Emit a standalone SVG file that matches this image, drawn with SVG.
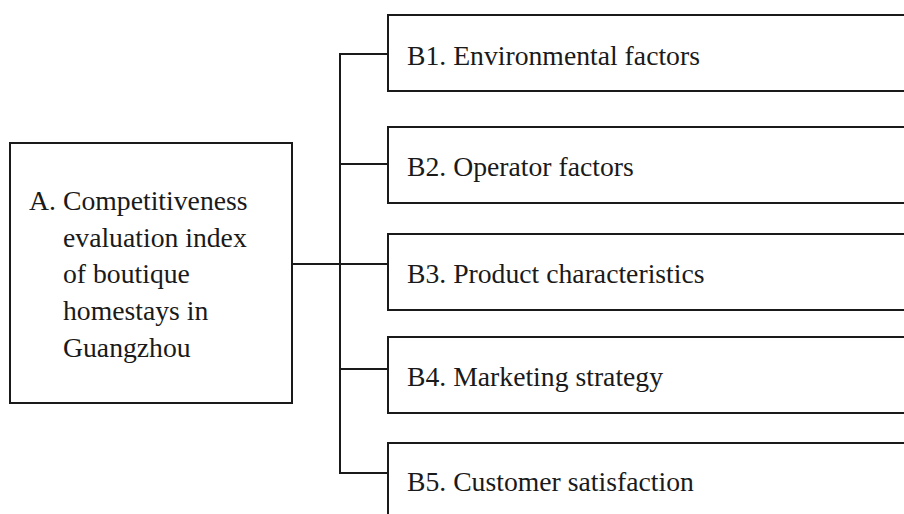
<svg xmlns="http://www.w3.org/2000/svg" width="904" height="514" viewBox="0 0 904 514">
<style>
.box{fill:#fff;stroke:#1a1a1a;stroke-width:2}
.ln{fill:none;stroke:#1a1a1a;stroke-width:2}
</style>
<rect width="904" height="514" fill="#fff"/>
<g id="connectors">
<line class="ln" x1="292" y1="264" x2="388" y2="264"/>
<line class="ln" x1="340" y1="53" x2="340" y2="474"/>
<line class="ln" x1="339" y1="54" x2="388" y2="54"/>
<line class="ln" x1="340" y1="164" x2="388" y2="164"/>
<line class="ln" x1="340" y1="369" x2="388" y2="369"/>
<line class="ln" x1="339" y1="473" x2="388" y2="473"/>
</g>
<g id="A">
<rect class="box" x="10" y="143" width="282" height="260"/>
<text font-family="Liberation Serif" font-size="27.7" fill="#1a1a1a" x="29" y="210">A.</text>
<text font-family="Liberation Serif" font-size="27.7" fill="#1a1a1a" x="63" y="210">Competitiveness</text>
<text font-family="Liberation Serif" font-size="27.7" fill="#1a1a1a" x="63" y="247">evaluation index</text>
<text font-family="Liberation Serif" font-size="27.7" fill="#1a1a1a" x="63" y="283">of boutique</text>
<text font-family="Liberation Serif" font-size="27.7" fill="#1a1a1a" x="63" y="320">homestays in</text>
<text font-family="Liberation Serif" font-size="27.7" fill="#1a1a1a" x="63" y="357">Guangzhou</text>
</g>
<g id="B1">
<rect class="box" x="388" y="15" width="540" height="76"/>
<text font-family="Liberation Serif" font-size="27.7" fill="#1a1a1a" x="407" y="65">B1. Environmental factors</text>
</g>
<g id="B2">
<rect class="box" x="388" y="127" width="540" height="76"/>
<text font-family="Liberation Serif" font-size="27.7" fill="#1a1a1a" x="407" y="176">B2. Operator factors</text>
</g>
<g id="B3">
<rect class="box" x="388" y="234" width="540" height="76"/>
<text font-family="Liberation Serif" font-size="27.7" fill="#1a1a1a" x="407" y="283">B3. Product characteristics</text>
</g>
<g id="B4">
<rect class="box" x="388" y="337" width="540" height="76"/>
<text font-family="Liberation Serif" font-size="27.7" fill="#1a1a1a" x="407" y="386">B4. Marketing strategy</text>
</g>
<g id="B5">
<rect class="box" x="388" y="443" width="540" height="90"/>
<text font-family="Liberation Serif" font-size="27.7" fill="#1a1a1a" x="407" y="491">B5. Customer satisfaction</text>
</g>
</svg>
